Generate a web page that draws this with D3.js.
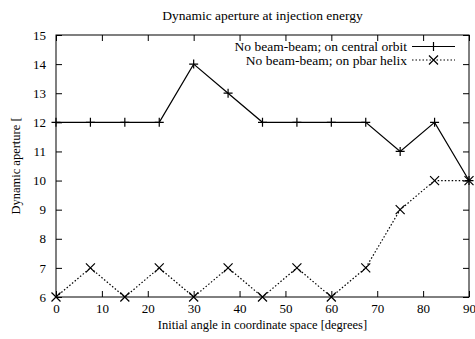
<!DOCTYPE html>
<html>
<head>
<meta charset="utf-8">
<script src="https://cdn.jsdelivr.net/npm/d3@7"></script>
<style>
  body { margin: 0; background: #fff; }
  svg text { font-family: "Liberation Serif", "DejaVu Serif", serif; fill: #000; }
</style>
</head>
<body>
<div id="chart"></div>
<script>
// chart values
const angles = [0, 7.5, 15, 22.5, 30, 37.5, 45, 52.5, 60, 67.5, 75, 82.5, 90];
const centralOrbit = [12, 12, 12, 12, 14, 13, 12, 12, 12, 12, 11, 12, 10];
const pbarHelix = [6, 7, 6, 7, 6, 7, 6, 7, 6, 7, 9, 10, 10];
const xTicks = [0, 10, 20, 30, 40, 50, 60, 70, 80, 90];
const yTicks = [6, 7, 8, 9, 10, 11, 12, 13, 14, 15];
const seriesNames = ["No beam-beam; on central orbit", "No beam-beam; on pbar helix"];

const W = 475, H = 339;
const margin = { top: 35, right: 6, bottom: 42, left: 56 };
const width = W - margin.left - margin.right;
const height = H - margin.top - margin.bottom;

const svg = d3.select("#chart").append("svg")
    .attr("width", W)
    .attr("height", H);

const g = svg.append("g")
    .attr("transform", "translate(" + margin.left + "," + margin.top + ")");

const x = d3.scaleLinear().domain([0, 90]).range([0, width]);
const y = d3.scaleLinear().domain([6, 15]).range([height, 0]);

// axes: ticks point inward, mirrored on top and right
const tickLen = 6;
g.append("g")
    .attr("transform", "translate(0," + height + ")")
    .call(d3.axisBottom(x).tickValues(xTicks).tickSize(-tickLen).tickPadding(7).tickFormat(d3.format("d")))
    .call(a => a.select(".domain").remove())
    .call(a => a.selectAll("text").style("font-size", "13px"));

g.append("g")
    .call(d3.axisTop(x).tickValues(xTicks).tickSize(-tickLen).tickFormat(""))
    .call(a => a.select(".domain").remove());

g.append("g")
    .call(d3.axisLeft(y).tickValues(yTicks).tickSize(-tickLen).tickPadding(10).tickFormat(d3.format("d")))
    .call(a => a.select(".domain").remove())
    .call(a => a.selectAll("text").style("font-size", "13px"));

g.append("g")
    .attr("transform", "translate(" + width + ",0)")
    .call(d3.axisRight(y).tickValues(yTicks).tickSize(-tickLen).tickFormat(""))
    .call(a => a.select(".domain").remove());

g.append("rect")
    .attr("width", width)
    .attr("height", height)
    .attr("fill", "none")
    .attr("stroke", "#000")
    .attr("stroke-width", 1);

// lines
const line = d3.line().x(d => x(d[0])).y(d => y(d[1]));
const s1 = angles.map((a, i) => [a, centralOrbit[i]]);
const s2 = angles.map((a, i) => [a, pbarHelix[i]]);

g.append("path").datum(s1)
    .attr("d", line)
    .attr("fill", "none")
    .attr("stroke", "#000")
    .attr("stroke-width", 1.2);

g.append("path").datum(s2)
    .attr("d", line)
    .attr("fill", "none")
    .attr("stroke", "#000")
    .attr("stroke-width", 1.2)
    .attr("stroke-dasharray", "1.5,2");

// markers
const m = 4.5;
function plus(sel) {
    sel.append("path")
        .attr("d", "M" + (-m) + ",0H" + m + "M0," + (-m) + "V" + m)
        .attr("stroke", "#000").attr("stroke-width", 1.2);
}
function cross(sel) {
    sel.append("path")
        .attr("d", "M" + (-m) + "," + (-m) + "L" + m + "," + m + "M" + (-m) + "," + m + "L" + m + "," + (-m))
        .attr("stroke", "#000").attr("stroke-width", 1.2);
}

g.selectAll(".pt1").data(s1).enter().append("g")
    .attr("class", "pt1")
    .attr("transform", d => "translate(" + x(d[0]) + "," + y(d[1]) + ")")
    .call(plus);

g.selectAll(".pt2").data(s2).enter().append("g")
    .attr("class", "pt2")
    .attr("transform", d => "translate(" + x(d[0]) + "," + y(d[1]) + ")")
    .call(cross);

// legend
const legend = g.append("g").attr("transform", "translate(" + (width - 57) + ",11.5)");
seriesNames.forEach((name, i) => {
    const row = legend.append("g").attr("transform", "translate(0," + (i * 13.5) + ")");
    row.append("text")
        .attr("x", -5)
        .attr("dy", "0.35em")
        .attr("text-anchor", "end")
        .style("font-size", "13.5px")
        .text(name);
    row.append("line")
        .attr("x1", 0).attr("x2", 43)
        .attr("stroke", "#000")
        .attr("stroke-width", 1.2)
        .attr("stroke-dasharray", i === 0 ? null : "1.5,2");
    row.append("g").attr("transform", "translate(21.5,0)").call(i === 0 ? plus : cross);
});

// titles
svg.append("text")
    .attr("x", margin.left + width / 2)
    .attr("y", 20)
    .attr("text-anchor", "middle")
    .style("font-size", "13.5px")
    .text("Dynamic aperture at injection energy");

svg.append("text")
    .attr("transform", "translate(20," + (margin.top + height / 2) + ") rotate(-90)")
    .attr("text-anchor", "middle")
    .style("font-size", "12.5px")
    .text("Dynamic aperture [");

svg.append("text")
    .attr("x", margin.left + width / 2)
    .attr("y", 329)
    .attr("text-anchor", "middle")
    .style("font-size", "12.5px")
    .text("Initial angle in coordinate space [degrees]");
</script>
</body>
</html>
